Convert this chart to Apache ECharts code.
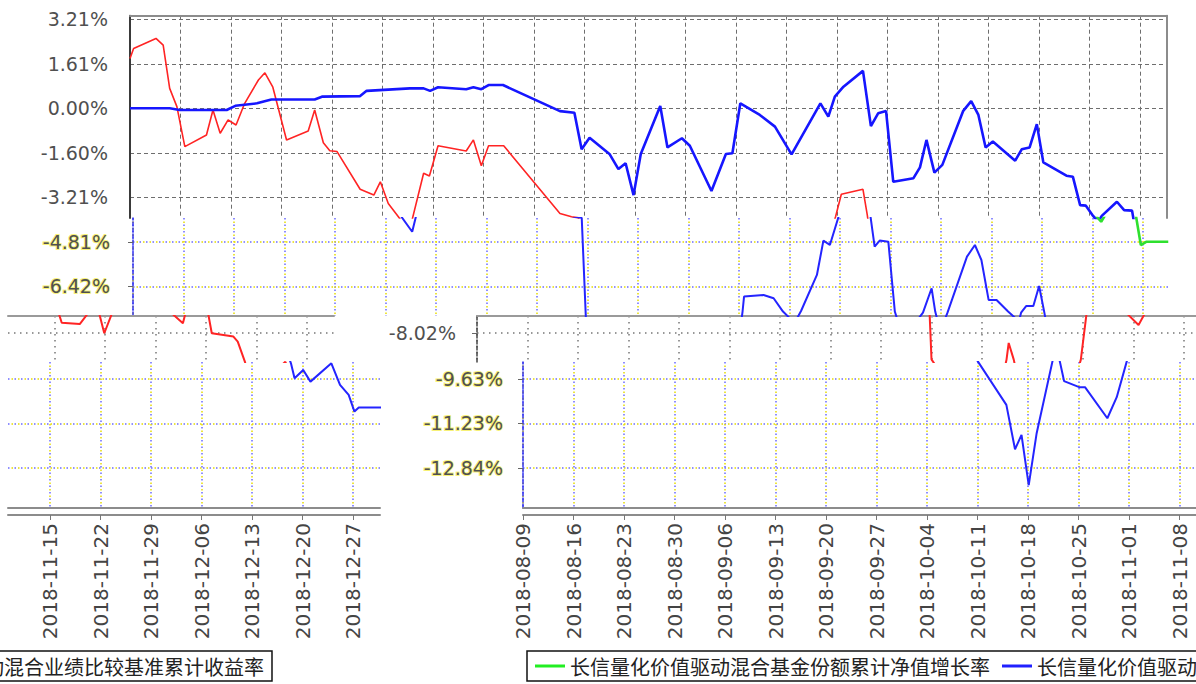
<!DOCTYPE html>
<html>
<head>
<meta charset="utf-8">
<title>长信量化价值驱动混合</title>
<script src="https://cdn.jsdelivr.net/npm/echarts@6/dist/echarts.min.js"></script>
<style>
html, body { margin: 0; padding: 0; overflow: hidden; background: #fff; }
#chart { width: 1700px; height: 684px; }
</style>
</head>
<body>
<div id="chart"></div>
<script>
// 横轴：距 2018-08-09 的天数
const startDate = '2018-08-09';
const tickDays = [0, 7, 14, 21, 28, 35, 42, 49, 56, 63, 70, 77, 84, 91, 98, 105, 112, 119, 126, 133, 140];
const yTickValues = [3.21, 1.605, 0, -1.605, -3.21, -4.815, -6.42, -8.025, -9.63, -11.235, -12.84];
const yTickLabels = ['3.21%', '1.61%', '0.00%', '-1.60%', '-3.21%', '-4.81%', '-6.42%', '-8.02%', '-9.63%', '-11.23%', '-12.84%'];

const fundName = '长信量化价值驱动混合基金份额累计净值增长率';
const benchName = '长信量化价值驱动混合业绩比较基准累计收益率';

// 蓝线（基金份额累计净值增长率，%）
const fundDay = [0, 5.5, 6.9, 13.4, 14.6, 17.6, 19.6, 25.6, 26.6, 31.9, 32.8, 38.8, 40.7, 41.6, 42.7,
  46.6, 47.6, 48.7, 49.7, 51.7, 59.6, 61.6, 62.6, 63.7, 66.5, 67.7, 68.7, 69.8, 70.8, 73.5,
  74.5, 76.5, 77.6, 80.6, 82.6, 83.5, 84.6, 87.3, 89.4, 91.7, 95.7, 96.8, 97.7, 98.9, 101.6,
  102.7, 103.7, 104.8, 105.8, 108.6, 109.5, 110.4, 111.5, 112.6, 115.5, 116.6, 117.6, 118.6, 119.6, 122.7,
  123.6, 124.7, 125.7, 126.6, 129.8, 130.7, 131.7, 132.5, 133.5, 134.2, 134.7, 136.8, 137.8, 138.9, 139.7,
  140.5, 143.5];
const fundVal = [0, 0, -0.06, -0.06, 0.09, 0.18, 0.32, 0.32, 0.42, 0.44, 0.63, 0.72, 0.72, 0.63, 0.76,
  0.69, 0.76, 0.69, 0.84, 0.84, -0.10, -0.16, -1.48, -1.06, -1.66, -2.19, -1.98, -3.13, -1.65, 0.08,
  -1.41, -1.08, -1.35, -2.98, -1.65, -1.62, 0.18, -0.24, -0.66, -1.66, 0.18, -0.30, 0.42, 0.78, 1.35,
  -0.64, -0.18, -0.10, -2.65, -2.52, -2.13, -1.14, -2.32, -2.04, -0.09, 0.26, -0.24, -1.41, -1.20, -1.89,
  -1.48, -1.41, -0.57, -1.95, -2.43, -2.47, -3.49, -3.51, -3.88, -4.09, -3.88, -3.37, -3.67, -3.69, -4.93,
  -4.81, -4.81];

// 红线（业绩比较基准累计收益率，%）
const benchDay = [0, 0.5, 3.6, 4.6, 5.5, 6.5, 7.6, 10.6, 11.5, 12.5,
  13.6, 14.7, 15.9, 17.8, 18.7, 19.8, 21.7, 24.7, 25.6, 26.8,
  27.7, 28.7, 31.9, 33.8, 34.7, 35.8, 37.2, 38.7, 40.7, 41.5,
  42.7, 46.6, 47.6, 48.7, 49.7, 51.8, 59.6, 61.2, 62.2, 63.0,
  67.0, 68.2, 69.1, 70.1, 71.2, 73.4, 73.7, 74.4, 75.0, 77.1,
  77.9, 81.0, 82.3, 83.7, 84.5, 84.7, 87.4, 88.8, 90.1, 91.7,
  92.6, 94.8, 95.7, 96.6, 97.8, 98.6, 101.6, 102.2, 102.8, 103.5,
  104.7, 105.6, 106.0, 108.5, 109.5, 110.7, 111.2, 111.9, 112.9, 115.6,
  116.7, 117.6, 118.6, 119.7, 121.3, 122.8, 123.1, 123.8, 124.8, 125.6,
  126.3, 126.8, 129.8, 130.4, 131.4, 131.9, 133.1, 134.1, 137.0, 138.2,
  139.4, 140.2, 140.8, 144.0];
const benchVal = [1.80, 2.16, 2.52, 2.28, 0.72, 0.06, -1.38, -0.96, -0.06, -0.90,
  -0.42, -0.60, 0.18, 1.02, 1.28, 0.76, -1.14, -0.82, -0.06, -1.24,
  -1.53, -1.56, -2.92, -3.13, -2.65, -3.43, -3.91, -4.45, -2.34, -2.44,
  -1.35, -1.54, -1.14, -2.07, -1.35, -1.35, -3.79, -3.91, -3.95, -8.98,
  -10.57, -12.17, -11.65, -13.46, -11.59, -8.99, -8.39, -8.99, -9.71, -9.93,
  -9.93, -11.05, -10.29, -8.99, -7.31, -6.79, -6.73, -6.85, -7.33, -7.74,
  -7.31, -6.01, -4.77, -4.93, -3.91, -3.10, -2.92, -3.85, -4.99, -4.77,
  -4.81, -7.33, -7.66, -7.71, -7.37, -6.49, -7.33, -8.04, -7.37, -5.35,
  -4.93, -5.47, -6.91, -6.91, -7.33, -7.68, -7.37, -7.13, -7.13, -6.41,
  -7.33, -8.04, -8.16, -8.34, -9.07, -9.61, -9.31, -9.73, -9.07, -9.85,
  -10.21, -10.81, -10.66, -10.66];

// 版面：原图的像素比例，以及错位的几条横带
const X0 = 130, PX_DAY = 50.5 / 7;
const Y0 = 19.3, V0 = 3.21, PX_PCT = 27.73;
const WRAP = 1180;
const dayAt = x => (x - X0) / PX_DAY;
const valAt = y => V0 - (y - Y0) / PX_PCT;

const FONT = 'DejaVu Sans';
const blueDots = { color: '#6a6aff', type: [1.5, 5], width: 1.5 };
const yellowDots = { color: '#e6dc00', type: [1.5, 5], width: 1.5, offset: 3 };

const bands = [
  { top: 15.7, bottom: 218, dx: 0, dy: 0, parts: [[130, 1167, 0]],
    splits: [{ color: '#6e6e6e', type: [4, 3], width: 1 }],
    yLine: { color: '#3a3a3a', width: 2 }, yTicks: false, margin: 22, fringe: false,
    topLine: { color: '#8c8c8c', width: 2 }, rightLine: { color: '#8c8c8c', width: 2 },
    bench: { color: '#ff2424', width: 1.6 }, fund: { color: '#1616ff', width: 2.6 }, named: true },
  { top: 218, bottom: 316, dx: 3, dy: 0, parts: [[133, 1170, 0]],
    splits: [blueDots, yellowDots],
    yLine: { color: '#3030ee', width: 1.5, type: [4, 2] }, yTicks: true, margin: 23, fringe: true,
    bench: { color: '#2424ff', width: 2 }, fund: { color: '#2ee02e', width: 2.6 } },
  { top: 316, bottom: 362, dx: 347, dy: 2, parts: [[477, 1196, 0], [8, 334, WRAP]],
    splits: [{ color: '#777777', type: [1.5, 4.5], width: 1.5 }],
    yLine: { color: '#444', width: 1.5, type: [4, 2] }, yTicks: true, margin: 21, fringe: false,
    topLine: { color: '#9a9a9a', width: 2 },
    bench: { color: '#ff2424', width: 2 }, fund: { color: '#1616ff', width: 2.6 } },
  { top: 362, bottom: 508, dx: 393, dy: 3.5, parts: [[523, 1196, 0], [8, 380, WRAP]],
    splits: [blueDots, yellowDots],
    yLine: { color: '#3030ee', width: 1.5, type: [4, 2] }, yTicks: true, margin: 20, fringe: true,
    bottomLine: { color: '#8c8c8c', width: 2 }, dates: true,
    bench: { color: '#2424ff', width: 2 }, fund: { color: '#2ee02e', width: 2.6 } }
];

function yLabel(v) {
  let best = 0;
  yTickValues.forEach((t, i) => {
    if (Math.abs(t - v) < Math.abs(yTickValues[best] - v)) best = i;
  });
  return yTickLabels[best];
}
function dateLabel(d) {
  const t = Date.parse(startDate + 'T00:00:00Z') + Math.round(d) * 86400000;
  return new Date(t).toISOString().slice(0, 10);
}
function split(s) {
  if (!s) return { show: false };
  return { show: true, lineStyle: { color: s.color, width: s.width, type: s.type, dashOffset: s.offset || 0 } };
}
const pairs = (days, vals) => days.map((d, i) => [d, vals[i]]);
const benchData = pairs(benchDay, benchVal);
const fundData = pairs(fundDay, fundVal);

const grid = [], xAxis = [], yAxis = [], series = [];

bands.forEach((b, bi) => {
  b.parts.forEach((p, pi) => {
    const gi = grid.length;
    const xl = p[0], xr = p[1], wrap = p[2];
    grid.push({ left: xl, top: b.top, width: xr - xl, height: b.bottom - b.top, outerBoundsMode: 'none' });
    const xMin = dayAt(xl - b.dx + wrap), xMax = dayAt(xr - b.dx + wrap);
    const yMax = valAt(b.top - b.dy), yMin = valAt(b.bottom - b.dy);
    const xi = xAxis.length, yi = yAxis.length;
    const main = pi === 0;

    const edge = b.topLine || b.bottomLine;
    xAxis.push({
      type: 'value', gridIndex: gi, min: xMin, max: xMax,
      position: b.topLine ? 'top' : 'bottom',
      axisLine: { show: !!edge, onZero: false, lineStyle: edge || {} },
      axisTick: { show: false, customValues: tickDays },
      axisLabel: { show: false, customValues: tickDays },
      splitLine: split(b.splits[0])
    });
    if (b.splits[1]) {
      xAxis.push({
        type: 'value', gridIndex: gi, min: xMin, max: xMax, position: 'top',
        axisLine: { show: false, onZero: false },
        axisTick: { show: false, customValues: tickDays },
        axisLabel: { show: false, customValues: tickDays },
        splitLine: split(b.splits[1])
      });
    }
    if (b.dates) {
      xAxis.push({
        type: 'value', gridIndex: gi, min: xMin, max: xMax, position: 'bottom', offset: 7,
        axisLine: { show: true, onZero: false, lineStyle: b.bottomLine },
        axisTick: { show: true, length: 5, customValues: tickDays, lineStyle: { color: '#777' } },
        axisLabel: {
          show: true, customValues: tickDays, rotate: 90, margin: 8,
          fontSize: 20, fontFamily: FONT, color: '#444', formatter: dateLabel
        },
        splitLine: { show: false }
      });
    }

    const lab = {
      show: main, customValues: yTickValues, margin: b.margin,
      fontSize: 19, fontFamily: FONT, color: '#505050', formatter: yLabel
    };
    if (b.fringe) {
      lab.textBorderColor = 'rgba(240,230,0,0.55)';
      lab.textBorderWidth = 2;
    }
    yAxis.push({
      type: 'value', gridIndex: gi, min: yMin, max: yMax, position: 'left',
      axisLine: { show: main, onZero: false, lineStyle: b.yLine },
      axisTick: { show: main && b.yTicks, length: 5, customValues: yTickValues, lineStyle: { color: '#666' } },
      axisLabel: lab,
      splitLine: split(b.splits[0])
    });
    if (b.splits[1] || b.rightLine) {
      yAxis.push({
        type: 'value', gridIndex: gi, min: yMin, max: yMax, position: 'right',
        axisLine: { show: !!b.rightLine, onZero: false, lineStyle: b.rightLine || {} },
        axisTick: { show: false, customValues: yTickValues },
        axisLabel: { show: false, customValues: yTickValues },
        splitLine: split(b.splits[1])
      });
    }

    series.push({
      type: 'line', name: b.named ? benchName : 'bench-' + bi + '-' + pi,
      xAxisIndex: xi, yAxisIndex: yi, data: benchData,
      showSymbol: false, symbol: 'none', clip: true, silent: true, z: 3,
      lineStyle: b.bench, itemStyle: { color: b.bench.color }
    });
    series.push({
      type: 'line', name: b.named ? fundName : 'fund-' + bi + '-' + pi,
      xAxisIndex: xi, yAxisIndex: yi, data: fundData,
      showSymbol: false, symbol: 'none', clip: true, silent: true, z: 4,
      lineStyle: b.fund, itemStyle: { color: b.fund.color }
    });
  });
});

const legendBase = {
  top: 651, orient: 'horizontal', padding: [5, 8, 5, 8], itemGap: 12,
  itemWidth: 30, itemHeight: 3, borderColor: '#111', borderWidth: 1.5,
  backgroundColor: '#fff', selectedMode: false,
  textStyle: { fontSize: 20, fontFamily: 'Noto Sans CJK SC', color: '#222' }
};

const chart = echarts.init(document.getElementById('chart'), null, { renderer: 'svg' });
chart.setOption({
  animation: false,
  backgroundColor: '#fff',
  grid: grid,
  xAxis: xAxis,
  yAxis: yAxis,
  legend: [
    Object.assign({}, legendBase, {
      left: 527,
      data: [
        { name: fundName, icon: 'rect', itemStyle: { color: '#22ee22' } },
        { name: benchName, icon: 'rect', itemStyle: { color: '#2020ff' } }
      ]
    }),
    Object.assign({}, legendBase, {
      left: -199,
      data: [{ name: benchName, icon: 'rect', itemStyle: { color: '#2020ff' } }]
    })
  ],
  series: series
});
</script>
</body>
</html>
